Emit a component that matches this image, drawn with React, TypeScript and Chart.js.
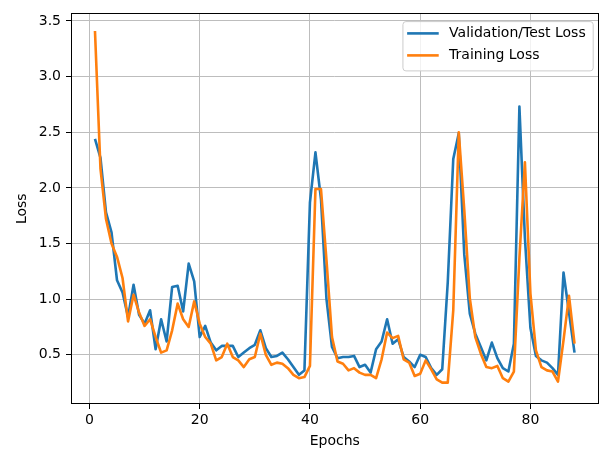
import React, { useEffect, useRef } from "react";
import { Chart, registerables } from "chart.js";

Chart.register(...registerables);

const epochs = [
  1, 2, 3, 4, 5, 6, 7, 8, 9, 10, 11, 12, 13, 14, 15, 16, 17, 18, 19, 20, 21, 22,
  23, 24, 25, 26, 27, 28, 29, 30, 31, 32, 33, 34, 35, 36, 37, 38, 39, 40, 41, 42,
  43, 44, 45, 46, 47, 48, 49, 50, 51, 52, 53, 54, 55, 56, 57, 58, 59, 60, 61, 62,
  63, 64, 65, 66, 67, 68, 69, 70, 71, 72, 73, 74, 75, 76, 77, 78, 79, 80, 81, 82,
  83, 84, 85, 86, 87, 88,
];

const valLoss = [
  2.44, 2.27, 1.78, 1.6, 1.17, 1.06, 0.84, 1.13, 0.86, 0.78,
  0.9, 0.55, 0.82, 0.62, 1.11, 1.12, 0.89, 1.32, 1.16, 0.66,
  0.76, 0.61, 0.54, 0.58, 0.58, 0.58, 0.48, 0.52, 0.56, 0.59,
  0.72, 0.56, 0.48, 0.49, 0.52, 0.46, 0.39, 0.32, 0.36, 1.87,
  2.32, 1.9, 1.0, 0.57, 0.47, 0.48, 0.48, 0.49, 0.39, 0.41,
  0.34, 0.55, 0.62, 0.82, 0.6, 0.64, 0.48, 0.44, 0.39, 0.5,
  0.48, 0.38, 0.32, 0.37, 1.15, 2.26, 2.49, 1.4, 0.87, 0.69,
  0.57, 0.45, 0.61, 0.47, 0.38, 0.35, 0.6, 2.73, 1.55, 0.74,
  0.49, 0.45, 0.43, 0.38, 0.32, 1.24, 0.88, 0.52,
];

const trainLoss = [
  3.41, 2.17, 1.72, 1.5, 1.38, 1.19, 0.8, 1.04, 0.88, 0.76,
  0.82, 0.66, 0.52, 0.54, 0.72, 0.96, 0.82, 0.75, 0.98, 0.78,
  0.66, 0.6, 0.45, 0.48, 0.6, 0.48, 0.45, 0.39, 0.46, 0.48,
  0.69, 0.5, 0.41, 0.43, 0.42, 0.38, 0.32, 0.29, 0.3, 0.4,
  1.99, 1.99, 1.35, 0.66, 0.44, 0.42, 0.36, 0.38, 0.34, 0.32,
  0.32, 0.29, 0.46, 0.7, 0.65, 0.67, 0.46, 0.43, 0.31, 0.33,
  0.45, 0.37, 0.28, 0.25, 0.25, 0.9, 2.5, 1.8, 1.01, 0.66,
  0.51, 0.39, 0.38, 0.4, 0.29, 0.26, 0.35, 1.37, 2.23, 1.05,
  0.54, 0.39, 0.36, 0.35, 0.26, 0.63, 1.03, 0.6,
];

const xTicks = [0, 20, 40, 60, 80];
const yTicks = [0.5, 1.0, 1.5, 2.0, 2.5, 3.0, 3.5];
const seriesLabels = ["Validation/Test Loss", "Training Loss"];
const seriesColors = ["#1f77b4", "#ff7f0e"];
const xTitle = "Epochs";
const yTitle = "Loss";

const FONT = "'DejaVu Sans', 'Liberation Sans', sans-serif";
const LINE_W = 2.6;

export default function App() {
  const ref = useRef<HTMLCanvasElement>(null);

  useEffect(() => {
    document.body.style.margin = "0";
    const canvas = ref.current;
    if (!canvas) return;

    const framePlugin = {
      id: "frame",
      afterDatasetsDraw(chart: any) {
        const { ctx, chartArea: a } = chart;
        ctx.save();
        ctx.strokeStyle = "#000";
        ctx.lineWidth = 1;
        const l = Math.round(a.left) + 0.5;
        const t = Math.round(a.top) + 0.5;
        const r = Math.round(a.right) - 0.5;
        const b = Math.round(a.bottom) - 0.5;
        ctx.strokeRect(l, t, r - l, b - t);
        ctx.restore();
      },
    };

    const legendPlugin = {
      id: "mplLegend",
      afterDraw(chart: any) {
        const { ctx, chartArea: a } = chart;
        ctx.save();
        ctx.font = `14px ${FONT}`;
        const ds = chart.data.datasets;
        let maxW = 0;
        ds.forEach((d: any) => {
          maxW = Math.max(maxW, ctx.measureText(d.label).width);
        });
        const padL = 4.7;
        const lineLen = 31.6;
        const gap = 10.4;
        const padR = 7;
        const boxW = padL + lineLen + gap + maxW + padR;
        const boxH = 49.3;
        const right = a.right - 5.8;
        const left = right - boxW;
        const top = a.top + 7.7;
        ctx.beginPath();
        if ((ctx as any).roundRect) {
          (ctx as any).roundRect(left + 0.5, top + 0.5, boxW, boxH, 3);
        } else {
          ctx.rect(left + 0.5, top + 0.5, boxW, boxH);
        }
        ctx.fillStyle = "rgba(255,255,255,0.8)";
        ctx.fill();
        ctx.strokeStyle = "#cccccc";
        ctx.lineWidth = 1;
        ctx.stroke();
        const rows = [12.3, 34.3];
        ds.forEach((d: any, i: number) => {
          const y = top + rows[i];
          ctx.beginPath();
          ctx.strokeStyle = d.borderColor;
          ctx.lineWidth = LINE_W;
          ctx.moveTo(left + padL, y);
          ctx.lineTo(left + padL + lineLen, y);
          ctx.stroke();
          ctx.fillStyle = "#000";
          ctx.textBaseline = "middle";
          ctx.textAlign = "left";
          ctx.fillText(d.label, left + padL + lineLen + gap, y);
        });
        ctx.restore();
      },
    };

    const chart = new Chart(canvas, {
      type: "line",
      data: {
        labels: epochs,
        datasets: [
          {
            label: seriesLabels[0],
            data: valLoss,
            borderColor: seriesColors[0],
            backgroundColor: seriesColors[0],
            borderWidth: LINE_W,
            pointRadius: 0,
            tension: 0,
            borderJoinStyle: "round",
            order: 1,
          },
          {
            label: seriesLabels[1],
            data: trainLoss,
            borderColor: seriesColors[1],
            backgroundColor: seriesColors[1],
            borderWidth: LINE_W,
            pointRadius: 0,
            tension: 0,
            borderJoinStyle: "round",
            order: 0,
          },
        ],
      },
      options: {
        responsive: false,
        devicePixelRatio: 1,
        animation: false,
        layout: { padding: { left: 0, right: 5.5, top: 9, bottom: 0 } },
        plugins: {
          legend: { display: false },
          tooltip: { enabled: false },
        },
        scales: {
          x: {
            type: "linear",
            min: -3.35,
            max: 92.35,
            afterBuildTicks: (scale: any) => {
              scale.ticks = xTicks.map((v) => ({ value: v }));
            },
            afterFit: (scale: any) => {
              scale.height = 48;
            },
            grid: {
              color: "#bdbdbd",
              lineWidth: 1,
              tickColor: "#000",
              tickLength: 5,
              drawTicks: true,
            },
            border: { display: false },
            ticks: {
              color: "#000",
              font: { family: FONT, size: 14 },
              padding: 3,
              maxRotation: 0,
              autoSkip: false,
              callback: (v: any) => String(v),
            },
            title: {
              display: true,
              text: xTitle,
              color: "#000",
              font: { family: FONT, size: 14 },
              padding: { top: 0, bottom: 2.6 },
            },
          },
          y: {
            type: "linear",
            min: 0.058,
            max: 3.568,
            afterBuildTicks: (scale: any) => {
              scale.ticks = yTicks.map((v) => ({ value: v }));
            },
            afterFit: (scale: any) => {
              scale.width = 71;
            },
            grid: {
              color: "#bdbdbd",
              lineWidth: 1,
              tickColor: "#000",
              tickLength: 5,
              drawTicks: true,
            },
            border: { display: false },
            ticks: {
              color: "#000",
              font: { family: FONT, size: 14 },
              padding: 5,
              autoSkip: false,
              callback: (v: any) => Number(v).toFixed(1),
            },
            title: {
              display: true,
              text: yTitle,
              color: "#000",
              font: { family: FONT, size: 14 },
              padding: { top: 13.6, bottom: 0 },
            },
          },
        },
      },
      plugins: [framePlugin, legendPlugin],
    } as any);

    return () => chart.destroy();
  }, []);

  return (
    <div style={{ width: 604, height: 452, position: "relative", background: "#fff" }}>
      <canvas ref={ref} width={604} height={452} />
    </div>
  );
}
